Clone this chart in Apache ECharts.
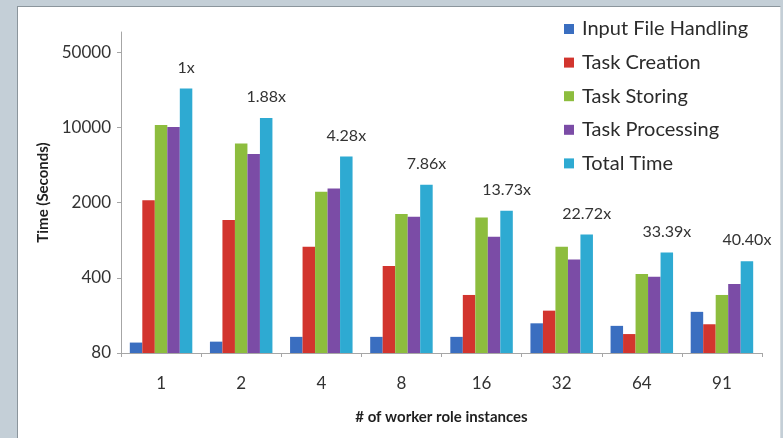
<!DOCTYPE html>
<html>
<head>
<meta charset="utf-8">
<script src="https://cdn.jsdelivr.net/npm/echarts@6/dist/echarts.min.js"></script>
<style>
  html, body { margin: 0; padding: 0; background: #c4cfd7; }
  #wrap { position: relative; width: 783px; height: 438px; overflow: hidden; }
  #panel { position: absolute; left: 17px; top: 6px; width: 762px; height: 440px;
           background: #ffffff; border-left: 1px solid #8b959c; border-top: 1px solid #8b959c;
           border-right: 1px solid #d6dce0; }
  #chart { position: absolute; left: 0; top: 0; width: 783px; height: 438px; }
</style>
</head>
<body>
<div id="wrap">
  <div id="panel"></div>
  <div id="chart"></div>
</div>
<script>
// Number of worker role instances
const workerCounts = ['1', '2', '4', '8', '16', '32', '64', '91'];

// Phase timings in seconds
const inputFileHandling = [100, 102, 113, 113, 113, 151, 143, 193];
const taskCreation      = [2100, 1375, 778, 514, 277, 198, 120, 148];
const taskStoring       = [10500, 7090, 2520, 1564, 1456, 778, 434, 277];
const taskProcessing    = [10100, 5650, 2700, 1477, 963, 593, 409, 350];
const totalTime         = [23000, 12230, 5370, 2925, 1675, 1012, 689, 569];

// Speedup relative to a single worker
const speedupLabels = ['1x', '1.88x', '4.28x', '7.86x', '13.73x', '22.72x', '33.39x', '40.40x'];

// Y axis tick values (log base 5)
const yTickValues = [80, 400, 2000, 10000, 50000];

const seriesNames = ['Input File Handling', 'Task Creation', 'Task Storing', 'Task Processing', 'Total Time'];
const seriesColors = ['#3a6ec0', '#d2352e', '#8dbd3e', '#7b4ca6', '#2eaad2'];
const seriesData = [inputFileHandling, taskCreation, taskStoring, taskProcessing, totalTime];

const FONT = 'Lato';

const chart = echarts.init(document.getElementById('chart'), null, { renderer: 'canvas' });

const series = seriesNames.map((name, i) => {
  const s = {
    name: name,
    type: 'bar',
    data: seriesData[i],
    barGap: '0%',
    barCategoryGap: '22%',
    itemStyle: { color: seriesColors[i] },
    emphasis: { disabled: true }
  };
  if (name === 'Total Time') {
    s.label = {
      show: true,
      position: 'top',
      distance: 13,
      formatter: p => speedupLabels[p.dataIndex],
      color: '#333333',
      fontFamily: FONT,
      fontSize: 16
    };
  }
  return s;
});

chart.setOption({
  animation: false,
  backgroundColor: 'transparent',
  textStyle: { fontFamily: FONT },
  grid: { left: 121, right: 21, top: 32, bottom: 85, containLabel: false },
  legend: {
    orient: 'vertical',
    left: 559,
    top: 14,
    itemWidth: 10,
    itemHeight: 10,
    itemGap: 13.6,
    icon: 'rect',
    data: seriesNames,
    textStyle: { fontFamily: FONT, fontSize: 20, color: '#2b2b2b', lineHeight: 20, padding: [0, 0, 0, 3] }
  },
  xAxis: {
    type: 'category',
    data: workerCounts,
    name: '# of worker role instances',
    nameLocation: 'middle',
    nameGap: 57,
    nameTextStyle: { fontFamily: FONT, fontSize: 15, fontWeight: 'bold', color: '#1f1f1f' },
    axisLine: { lineStyle: { color: '#a6a6a6', width: 1 } },
    axisTick: { show: true, length: 4, lineStyle: { color: '#a6a6a6' } },
    axisLabel: { fontFamily: FONT, fontSize: 17, color: '#333333', margin: 22 }
  },
  yAxis: {
    type: 'log',
    logBase: 5,
    min: 80,
    max: 77000,
    name: 'Time (Seconds)',
    nameLocation: 'middle',
    nameGap: 66,
    nameTextStyle: { fontFamily: FONT, fontSize: 15, fontWeight: 'bold', color: '#1f1f1f' },
    axisLine: { show: true, lineStyle: { color: '#a6a6a6', width: 1 } },
    axisTick: { show: true, length: 4, customValues: yTickValues, lineStyle: { color: '#a6a6a6' } },
    axisLabel: {
      customValues: yTickValues,
      formatter: v => String(Math.round(v)),
      fontFamily: FONT, fontSize: 17, color: '#333333', margin: 10
    },
    splitLine: { show: false },
    minorTick: { show: false }
  },
  series: series
});
</script>
</body>
</html>
